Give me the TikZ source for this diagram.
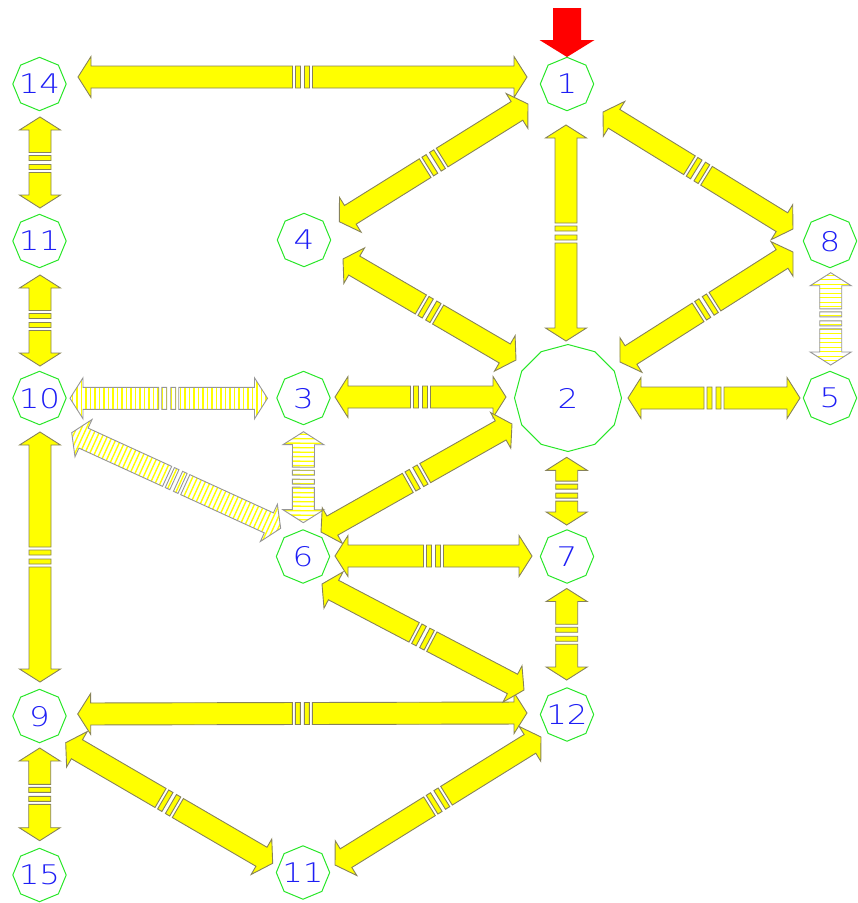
\documentclass[tikz,border=0pt]{standalone}
\usepackage{fontspec}
\newfontfamily\nodefont[FakeStretch=1.2]{DejaVu Sans ExtraLight}
\usetikzlibrary{shapes.geometric,calc}
\definecolor{nodegreen}{RGB}{40,230,40}
\definecolor{numblue}{RGB}{30,30,245}
\definecolor{arrowfill}{RGB}{255,255,0}
\definecolor{arrowedge}{RGB}{135,130,90}
\definecolor{hatchedge}{RGB}{150,150,150}
\definecolor{hatchline}{RGB}{255,255,0}
\tikzset{
  smallnode/.style={draw=nodegreen, line width=1pt, regular polygon, regular polygon sides=8,
    shape border rotate=22.5, minimum size=53.4pt, inner sep=0pt, text=numblue,
    font=\nodefont\fontsize{27}{27}\selectfont},
  bignode/.style={smallnode, regular polygon sides=12, shape border rotate=15, minimum size=107pt},
  solidpart/.style={fill=arrowfill, draw=arrowedge, line width=0.9pt, line join=miter},
  hatchpart/.style={draw=hatchedge, line width=0.9pt, line join=miter},
  hatchstroke/.style={draw=hatchline, line width=1.4pt},
  startarrow/.style={fill=red, draw=none}
}
\newcommand\numtext[1]{\smash{\makebox[0pt]{\raisebox{-0.5\height}{#1}}}}
\newcommand\arrowshape{%
  (0,0) -- (13,20.5) -- (13,11) -- ({\arlen/2-10},11) -- ({\arlen/2-10},-11) -- (13,-11) -- (13,-20.5) -- cycle
  (\arlen,0) -- ({\arlen-13},20.5) -- ({\arlen-13},11) -- ({\arlen/2+10},11) -- ({\arlen/2+10},-11) -- ({\arlen-13},-11) -- ({\arlen-13},-20.5) -- cycle
  ({\arlen/2-7},-11) rectangle ({\arlen/2-2},11)
  ({\arlen/2+2},-11) rectangle ({\arlen/2+7},11)}
\newcommand\dblarrow[5]{%
  \coordinate (arA) at ($(#2)+(#3)$);
  \coordinate (arB) at ($(#4)+(#5)$);
  \pgfpointdiff{\pgfpointanchor{arA}{center}}{\pgfpointanchor{arB}{center}}%
  \pgfgetlastxy{\ardx}{\ardy}%
  \pgfmathsetmacro\arang{atan2(\ardy,\ardx)}%
  \pgfmathsetmacro\arlen{veclen(\ardx,\ardy)}%
  \begin{scope}[shift={(arA)}, rotate=\arang, x=1pt, y=1pt]
    \ifx#1h
      \fill[white] \arrowshape;
      \begin{scope}
        \clip \arrowshape;
        \foreach \xx in {2.5,7,...,\arlen} \draw[hatchstroke] (\xx,-22) -- (\xx,22);
      \end{scope}
      \draw[hatchpart] \arrowshape;
    \else
      \filldraw[solidpart] \arrowshape;
    \fi
  \end{scope}
}
\begin{document}
\begin{tikzpicture}[x=1pt,y=-1pt]
\useasboundingbox (0,0) rectangle (858,903);
% nodes
\node[smallnode] (n14) at (39.5,84) {\numtext{14}};
\node[smallnode] (n1) at (567,84) {\numtext{1}};
\node[smallnode] (n11a) at (39.5,241) {\numtext{11}};
\node[smallnode] (n4) at (304,240) {\numtext{4}};
\node[smallnode] (n8) at (830,241) {\numtext{8}};
\node[smallnode] (n10) at (39.5,398) {\numtext{10}};
\node[smallnode] (n3) at (303.5,398) {\numtext{3}};
\node[bignode] (n2) at (568,398) {\numtext{2}};
\node[smallnode] (n5) at (830,398) {\numtext{5}};
\node[smallnode] (n6) at (303,556.5) {\numtext{6}};
\node[smallnode] (n7) at (567,556.5) {\numtext{7}};
\node[smallnode] (n9) at (39.5,716) {\numtext{9}};
\node[smallnode] (n12) at (567,714.5) {\numtext{12}};
\node[smallnode] (n15) at (39.5,875) {\numtext{15}};
\node[smallnode] (n11b) at (303,872.5) {\numtext{11}};
% start arrow
\fill[startarrow] ($(n1)+(-14,-76)$) -- ($(n1)+(14,-76)$) -- ($(n1)+(14,-44)$) -- ($(n1)+(27.5,-44)$)
  -- ($(n1)+(0,-27)$) -- ($(n1)+(-27.5,-44)$) -- ($(n1)+(-14,-44)$) -- cycle;
% connectors
\dblarrow{s}{n14}{38.5,-7}{n1}{-40,-7}
\dblarrow{s}{n14}{0.5,33}{n11a}{0.5,-33}
\dblarrow{s}{n11a}{0.5,34}{n10}{0.5,-32}
\dblarrow{h}{n10}{30.5,0.3}{n3}{-36,0.3}
\dblarrow{h}{n10}{32.2,34.7}{n6}{-22.3,-28.2}
\dblarrow{s}{n10}{0.5,34}{n9}{0.5,-34}
\dblarrow{s}{n9}{0.2,32}{n15}{0.2,-34.3}
\dblarrow{s}{n9}{38.2,-2}{n12}{-40,-1.5}
\dblarrow{s}{n9}{26.2,26.7}{n11b}{-30.3,-9.2}
\dblarrow{s}{n11b}{32,-7.5}{n12}{-26,22.5}
\dblarrow{s}{n1}{-39,20}{n4}{35.3,-18.3}
\dblarrow{s}{n1}{-1,41}{n2}{-2,-57}
\dblarrow{s}{n1}{36,28}{n8}{-37,-12}
\dblarrow{s}{n4}{39,19}{n2}{-52,-38}
\dblarrow{s}{n2}{52,-36}{n8}{-37,11}
\dblarrow{h}{n8}{0.7,31.7}{n5}{0.7,-33}
\dblarrow{s}{n3}{31.5,-1}{n2}{-62,-1}
\dblarrow{s}{n2}{60,0}{n5}{-30,0}
\dblarrow{h}{n3}{0,33.7}{n6}{0.3,-33.8}
\dblarrow{s}{n2}{-56,26}{n6}{18,-24.5}
\dblarrow{s}{n2}{-1.3,59.3}{n7}{-0.3,-31.5}
\dblarrow{s}{n6}{32,-0.5}{n7}{-35,-0.5}
\dblarrow{s}{n6}{19,27.5}{n12}{-43,-24.5}
\dblarrow{s}{n7}{-0.3,32}{n12}{-0.3,-34.5}
\end{tikzpicture}
\end{document}
